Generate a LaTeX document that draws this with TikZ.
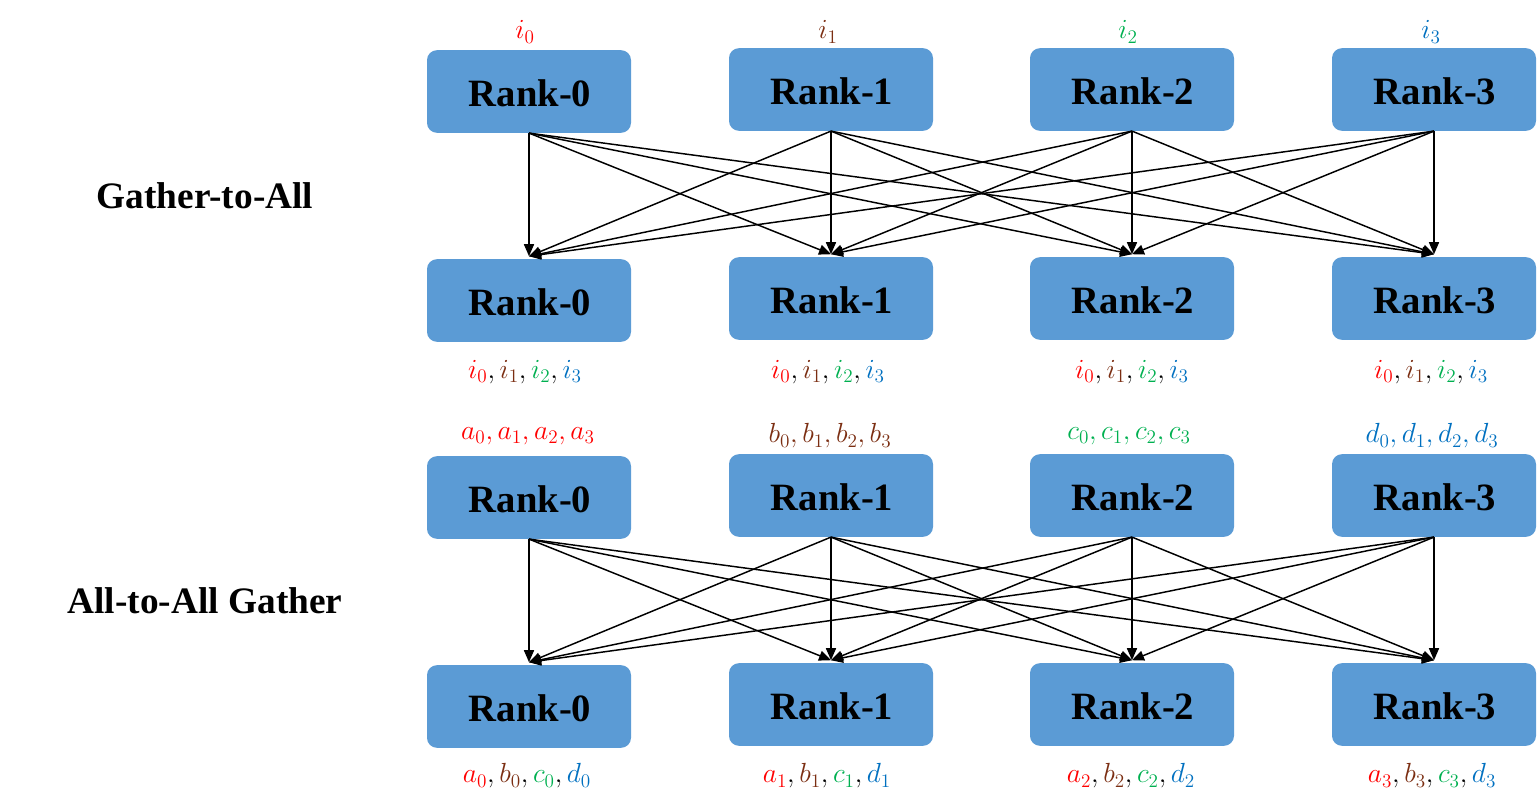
\documentclass[tikz,border=0pt]{standalone}
\usepackage{fontspec}
\setmainfont{Liberation Serif}
\usetikzlibrary{arrows.meta}
\definecolor{boxblue}{HTML}{5B9BD5}
\definecolor{cred}{HTML}{FF0000}
\definecolor{cbrown}{HTML}{7B2E12}
\definecolor{cgreen}{HTML}{00B050}
\definecolor{cblue}{HTML}{0070C0}
\begin{document}
\begin{tikzpicture}[x=0.75pt,y=-0.75pt,
  rankbox/.style={draw=none,fill=boxblue,rounded corners=7.5pt,minimum width=153pt,minimum height=62pt,inner sep=0pt,font=\fontsize{29}{30}\selectfont\bfseries},
  rtext/.style={font=\fontsize{29}{30}\selectfont\bfseries,inner sep=0pt},
  conn/.style={black,line width=1.1pt,-{Triangle[length=9pt,width=7.5pt]}},
  lab/.style={font=\fontsize{21}{24}\selectfont,inner sep=0pt},
  title/.style={font=\fontsize{28}{30}\selectfont\bfseries}]
\useasboundingbox (0,0) rectangle (1539,799);
% section 1
\node[rankbox] (a0) at (529,91.5) {};
\node[rankbox] (a1) at (831,89.5) {};
\node[rankbox] (a2) at (1132,89.5) {};
\node[rankbox] (a3) at (1434,89.5) {};
\node[rankbox] (b0) at (529,300.5) {};
\node[rankbox] (b1) at (831,298.5) {};
\node[rankbox] (b2) at (1132,298.5) {};
\node[rankbox] (b3) at (1434,298.5) {};
% section 2
\node[rankbox] (c0) at (529,497.5) {};
\node[rankbox] (c1) at (831,495.5) {};
\node[rankbox] (c2) at (1132,495.5) {};
\node[rankbox] (c3) at (1434,495.5) {};
\node[rankbox] (d0) at (529,706.5) {};
\node[rankbox] (d1) at (831,704.5) {};
\node[rankbox] (d2) at (1132,704.5) {};
\node[rankbox] (d3) at (1434,704.5) {};
\foreach \n/\k in {a0/0,a1/1,a2/2,a3/3,b0/0,b1/1,b2/2,b3/3,c0/0,c1/1,c2/2,c3/3,d0/0,d1/1,d2/2,d3/3}{
  \node[rtext] (txt\n) at ([xshift=0.75pt,yshift=-1.5pt]\n.center) {Rank-\k};
}
% titles
\node[title] (t1) at (205,196) {Gather-to-All};
\node[title] (t2) at (205,601) {All-to-All Gather};
% arrow end coordinates
\foreach \k in {0,1,2,3}{
  \coordinate (ta\k) at ([yshift=2pt]b\k.north);
  \coordinate (tc\k) at ([yshift=2pt]d\k.north);
}
\foreach \i in {0,1,2,3}{
  \foreach \j in {0,1,2,3}{
    \draw[conn] (a\i.south) -- (ta\j);
    \draw[conn] (c\i.south) -- (tc\j);
  }
}
% labels section 1
\node[lab] (li0) at (525,32) {$\color{cred}i_0$};
\node[lab] (li1) at (828,32) {$\color{cbrown}i_1$};
\node[lab] (li2) at (1128,32) {$\color{cgreen}i_2$};
\node[lab] (li3) at (1431,32) {$\color{cblue}i_3$};
\def\allI{$\color{cred}i_0\color{black},\color{cbrown}i_1\color{black},\color{cgreen}i_2\color{black},\color{cblue}i_3$}
\node[lab] (lb0) at (525,372) {\allI};
\node[lab] (lb1) at (828,372) {\allI};
\node[lab] (lb2) at (1132,372) {\allI};
\node[lab] (lb3) at (1431,372) {\allI};
% labels section 2
\node[lab] (lc0) at (528,436) {$\color{cred}a_0,a_1,a_2,a_3$};
\node[lab] (lc1) at (830,436) {$\color{cbrown}b_0,b_1,b_2,b_3$};
\node[lab] (lc2) at (1129,436) {$\color{cgreen}c_0,c_1,c_2,c_3$};
\node[lab] (lc3) at (1432,436) {$\color{cblue}d_0,d_1,d_2,d_3$};
\node[lab] (ld0) at (527,776) {$\color{cred}a_0\color{black},\color{cbrown}b_0\color{black},\color{cgreen}c_0\color{black},\color{cblue}d_0$};
\node[lab] (ld1) at (827,776) {$\color{cred}a_1\color{black},\color{cbrown}b_1\color{black},\color{cgreen}c_1\color{black},\color{cblue}d_1$};
\node[lab] (ld2) at (1131,776) {$\color{cred}a_2\color{black},\color{cbrown}b_2\color{black},\color{cgreen}c_2\color{black},\color{cblue}d_2$};
\node[lab] (ld3) at (1432,776) {$\color{cred}a_3\color{black},\color{cbrown}b_3\color{black},\color{cgreen}c_3\color{black},\color{cblue}d_3$};
\end{tikzpicture}
\end{document}
